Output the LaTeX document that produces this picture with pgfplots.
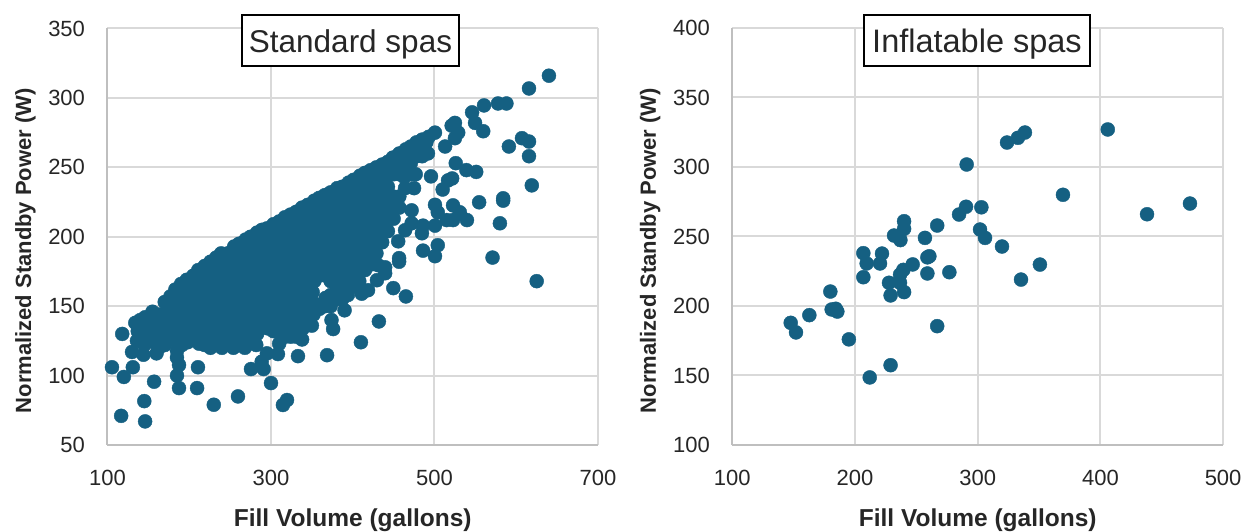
\documentclass[border=0pt]{standalone}
\usepackage{pgfplots}
\pgfplotsset{compat=1.18}
\usepackage{fontspec}
\setmainfont{Liberation Sans}
\definecolor{dot}{HTML}{156082}
\definecolor{gridc}{HTML}{D9D9D9}
\definecolor{axisc}{HTML}{BFBFBF}
\pgfplotsset{
  spa/.style={
    scale only axis, anchor=origin, clip=false,
    axis x line*=bottom, axis y line*=left,
    axis line style={draw=axisc, line width=2pt, -},
    grid=major, grid style={draw=gridc, line width=2pt},
    major tick length=0pt, tick style={draw=none},
    /pgf/number format/assume math mode=true,
    tick label style={font=\fontsize{22}{26}\selectfont, text=black!85},
    xticklabel style={yshift=-21.5pt},
    yticklabel style={xshift=-19pt},
    xlabel style={font=\fontsize{24.5}{28}\selectfont\bfseries, text=black!85},
    ylabel style={font=\fontsize{22}{26}\selectfont\bfseries, text=black!85},
  }
}
\begin{document}
\begin{tikzpicture}[x=1pt,y=1pt]
\path[use as bounding box] (0,0) rectangle (1248,532);
\begin{axis}[spa, at={(107.5pt,87pt)}, width=490.5pt, height=416.5pt,
  xmin=100, xmax=700, ymin=50, ymax=350,
  xtick={100,300,500,700}, ytick={50,100,150,200,250,300,350},
  xlabel={Fill Volume (gallons)}, ylabel={Normalized Standby Power (W)},
  xlabel style={at={(axis cs:400,50)}, anchor=center, yshift=-75.5pt},
  ylabel style={at={(axis cs:100,200)}, anchor=center, yshift=82pt, xshift=-14pt}]
\addplot[only marks, mark=*, mark size=7pt, color=dot, mark options={draw=dot, fill=dot}] coordinates {
(105.5,106)(120,99)(118,130)(157,95.6)(145,81.6)(116.7,71)(146,67)(187.5,91)(185,100)(187.5,107.6)(210.7,106)(209.6,91)(230,79)(259.6,85)(275.5,104.7)(291,104.7)(288.6,110)(300,94.6)(319.6,82.4)(314.6,78.8)(333,114)(368.6,114.7)(308.5,115.5)(295,116)(130,117)(144,115)(160,116)(131,106)(185,113)(185,118)
(410,124)(432,139)(390,147)(376,133.5)(374,140)(350,136)
(640,316)(615.6,306.8)(560.6,294.6)(577.7,296)(588,296)(546,289.6)(549.6,282)(559.6,276)(525,282)(521,280)(529,275)(525,271)(513,265)(500.6,275)(607,271)(615.6,268.6)(591,265)(615.6,258)(488,260)(526,253)(539,248)(551,246.7)(521.6,242)(516.6,240.6)(510,234)(619,237)(584,227.7)(584,226)(554.6,224.8)(580,209.7)(500.6,223)(522.7,222.6)(504,217.6)(531,217.6)(539.7,212)(522.7,212)(515,212)(500.6,208)(486,208)(472,209.7)(464,204.7)(484.6,202.5)(455.6,196.7)(486,190)(504,193.9)(500.6,186)(571,185)(625,168)(456.7,184.6)(456.7,182)(439.6,178)(431,179.5)(439.6,173.7)(429.6,168.7)(418.7,161.5)(411,159)(449.6,163)(465,157)(477,245)(495.7,243.5)(475,235)(472,219)(441.7,214)
(136,125)(137,132)(134,138)(140,140)(146,142)(145,122)(146,130)(147,136)
(157,124)(156,132)(158,139)(155,146)
(170,122)(171,130)(169,138)(172,146)(170,153)
(184,125)(183,133)(186,141)(184,149)(185,156)(183,162)(190,166)
(198,124)(199,132)(197,140)(199,148)(198,156)(200,164)(197,169)
(212,123)(213,131)(211,139)(213,147)(212,155)(214,163)(212,171)(211,176)
(226,120)(227,128)(225,136)(227,144)(226,152)(228,160)(226,168)(227,176)(226,182)
(240,120)(241,128)(239,136)(241,144)(240,152)(242,160)(240,168)(241,176)(240,184)(239,188)
(254,120)(255,127)(253,135)(255,143)(254,151)(256,159)(254,167)(255,175)(254,183)(253,190)(255,193)
(268,120)(269,128)(267,136)(269,144)(268,152)(270,160)(268,168)(269,176)(268,184)(267,192)(269,198)
(282,122)(283,130)(281,138)(283,146)(282,154)(284,162)(282,170)(283,178)(282,186)(281,194)(283,203)
(296,134)(297,142)(295,150)(297,158)(296,166)(298,174)(296,182)(297,190)(296,198)(295,206)
(310,123)(311,131)(309,139)(311,147)(310,155)(312,163)(310,171)(311,179)(310,187)(309,195)(311,203)(310,211)
(324,128)(325,136)(323,144)(325,152)(324,160)(326,168)(324,176)(325,184)(324,192)(323,200)(325,208)(324,216)
(338,126)(339,134)(337,142)(339,150)(338,158)(340,166)(338,174)(339,182)(338,190)(337,198)(339,206)(338,214)(338,221)
(352,144)(353,152)(351,160)(353,168)(352,176)(354,184)(352,192)(353,200)(352,208)(351,216)(353,226)
(366,150)(367,156)(367,172)(368,180)(366,188)(367,196)(366,204)(365,212)(367,220)(366,230)
(380,155)(381,163)(379,171)(381,179)(380,187)(382,195)(380,203)(381,211)(380,219)(379,227)(381,235)
(394,158)(395,166)(393,174)(395,182)(394,190)(396,198)(394,206)(395,214)(394,222)(393,230)(395,239)
(408,168)(409,176)(407,184)(409,192)(408,200)(410,208)(408,216)(409,224)(408,232)(407,240)(409,244)
(422,180)(423,188)(421,196)(423,204)(422,212)(424,220)(422,228)(423,236)(422,244)(422,248)
(436,196)(437,204)(435,212)(437,220)(436,228)(438,236)(436,244)(436,252)
(450,213)(451,221)(449,229)(450,245)(451,253)(449,257)
(464,235)(463,243)(465,250)(464,258)(465,263)
(478,258)(478,268)(492,260)(490,268)(493,272)
(163,120)(163,128)(163,136)(163,144)
(177,126)(177,134)(177,142)(177,150)(177,157)
(191,122)(191,128)(191,136)(191,144)(191,152)(191,160)
(205,127)(205,135)(205,143)(205,151)(205,159)(205,167)(205,172)
(219,122)(219,127)(219,135)(219,143)(219,151)(219,159)(219,167)(219,175)(219,179)
(233,124)(233,132)(233,140)(233,148)(233,156)(233,164)(233,172)(233,180)(233,185)
(247,124)(247,132)(247,140)(247,148)(247,156)(247,164)(247,172)(247,180)(247,188)
(261,124)(261,132)(261,140)(261,148)(261,156)(261,164)(261,172)(261,180)(261,188)(261,195)
(275,125)(275,132)(275,140)(275,148)(275,156)(275,164)(275,172)(275,180)(275,188)(275,196)(275,200)
(289,138)(289,146)(289,154)(289,162)(289,170)(289,178)(289,186)(289,194)(289,202)(289,205)
(303,132)(303,138)(303,146)(303,154)(303,162)(303,170)(303,178)(303,186)(303,194)(303,202)(303,209)
(317,128)(317,135)(317,143)(317,151)(317,159)(317,167)(317,175)(317,183)(317,191)(317,199)(317,207)(317,214)
(331,128)(331,132)(331,140)(331,148)(331,156)(331,164)(331,172)(331,180)(331,188)(331,196)(331,204)(331,212)(331,218)
(345,140)(345,148)(345,156)(345,164)(345,172)(345,180)(345,188)(345,196)(345,204)(345,212)(345,220)(345,223)
(359,148)(359,172)(359,176)(359,184)(359,192)(359,200)(359,208)(359,216)(359,224)(359,228)
(373,150)(373,158)(373,168)(373,176)(373,184)(373,192)(373,200)(373,208)(373,216)(373,224)(373,232)
(387,155)(387,163)(387,171)(387,179)(387,187)(387,195)(387,203)(387,211)(387,219)(387,227)(387,236)
(401,164)(401,172)(401,180)(401,188)(401,196)(401,204)(401,212)(401,220)(401,228)(401,236)(401,241)
(415,176)(415,184)(415,192)(415,200)(415,208)(415,216)(415,224)(415,232)(415,240)(415,246)
(429,188)(429,196)(429,204)(429,212)(429,220)(429,228)(429,236)(429,244)(429,250)
(443,204)(443,212)(443,220)(443,228)(443,236)(443,244)(443,252)(443,254)
(457,221)(457,229)(457,245)(457,253)(457,260)
(471,245)(471,253)(471,260)(471,265)
(485,258)(485,266)(485,270)
};
\end{axis}
\begin{axis}[spa, at={(732.3pt,87pt)}, width=490.8pt, height=417pt,
  xmin=100, xmax=500, ymin=100, ymax=400,
  xtick={100,200,300,400,500}, ytick={100,150,200,250,300,350,400},
  xlabel={Fill Volume (gallons)}, ylabel={Normalized Standby Power (W)},
  xlabel style={at={(axis cs:300,100)}, anchor=center, yshift=-75.5pt},
  ylabel style={at={(axis cs:100,250)}, anchor=center, yshift=82pt, xshift=-14pt}]
\addplot[only marks, mark=*, mark size=7pt, color=dot, mark options={draw=dot, fill=dot}] coordinates {
(291,301.8)(290.5,271.4)(284.8,265.8)(303,271)(301.9,255)(306,249)(267,257.9)(257,249)(240,261)(240,255.5)(231.8,250.7)(237,247.4)(206.8,238)(222,237.7)(209.5,230.6)(220.4,230.6)(206.8,220.7)(260.6,235.8)(259,235)(247,229.9)(239.4,226)(236.7,222.6)(259,223.4)(276.9,224.3)(227.7,216.7)(236.7,216.7)(240,210)(229,207.6)(179.9,210.4)(184.3,198)(181,197.5)(185.6,196)(162.8,193.4)(147.6,187.9)(151.9,181)(195,176)(267,185.5)(229,157.4)(212,148.6)
(323.9,317.6)(332.8,321)(338.5,324.8)(406,327)(369.5,280)(438,266)(473,273.7)(319.8,242.8)(335.3,219)(350.7,229.8)
};
\end{axis}
\draw[black, line width=2pt, fill=white] (242,466) rectangle (459,517);
\draw[black, line width=2pt, fill=white] (864,466) rectangle (1090,517);
\node[inner sep=0pt, font=\fontsize{31.5}{36}\selectfont, text=black!85] at (350.5,488) {Standard spas};
\node[inner sep=0pt, font=\fontsize{32.5}{36}\selectfont, text=black!85] at (977,488) {Inflatable spas};
\end{tikzpicture}
\end{document}
